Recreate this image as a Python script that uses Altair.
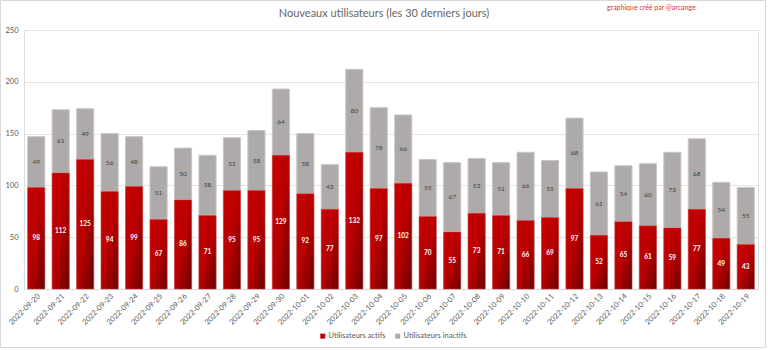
import altair as alt
import pandas as pd

dates = ["2022-09-20","2022-09-21","2022-09-22","2022-09-23","2022-09-24","2022-09-25","2022-09-26",
         "2022-09-27","2022-09-28","2022-09-29","2022-09-30","2022-10-01","2022-10-02","2022-10-03",
         "2022-10-04","2022-10-05","2022-10-06","2022-10-07","2022-10-08","2022-10-09","2022-10-10",
         "2022-10-11","2022-10-12","2022-10-13","2022-10-14","2022-10-15","2022-10-16","2022-10-17",
         "2022-10-18","2022-10-19"]
actifs = [98,112,125,94,99,67,86,71,95,95,129,92,77,132,97,102,70,55,73,71,66,69,97,52,65,61,59,77,49,43]
inactifs = [49,61,49,56,48,51,50,58,51,58,64,58,43,80,78,66,55,67,53,51,66,55,68,61,54,60,73,68,54,55]
series_names = ["Utilisateurs actifs", "Utilisateurs inactifs"]
title_text = "Nouveaux utilisateurs  (les 30 derniers  jours)"
credit_text = "graphique créé par @arcange"

wide = pd.DataFrame({"date": dates, "actifs": actifs, "inactifs": inactifs})
wide["total"] = wide["actifs"] + wide["inactifs"]
wide["mid_a"] = wide["actifs"] / 2
wide["mid_i"] = wide["actifs"] + wide["inactifs"] / 2

long = pd.concat([
    pd.DataFrame({"date": dates, "series": series_names[0], "lo": 0, "hi": actifs}),
    pd.DataFrame({"date": dates, "series": series_names[1], "lo": actifs, "hi": wide["total"]}),
])

FONT = "Lato"
x_enc = alt.X("date:N", sort=dates, title=None,
              scale=alt.Scale(paddingInner=0.3, paddingOuter=0.15),
              axis=alt.Axis(labelAngle=-45, labelFontSize=7.5, labelColor="#595959",
                            ticks=False, domainColor="#d9d9d9", labelPadding=3, labelFont=FONT))
y_scale = alt.Scale(domain=[0, 250], nice=False)
y_axis = alt.Axis(values=[0, 50, 100, 150, 200, 250], labelFontSize=7.5, labelColor="#595959",
                  domain=False, ticks=False, gridColor="#e4e4e4", labelPadding=6, title=None,
                  labelFont=FONT)

base = alt.Chart(long)
bars = base.mark_bar(stroke="#c9c6c6", strokeWidth=1).encode(
    x=x_enc,
    y=alt.Y("lo:Q", scale=y_scale, axis=y_axis),
    y2="hi:Q",
    color=alt.Color("series:N", sort=series_names,
                    scale=alt.Scale(domain=series_names, range=["#c00000", "#aeaaaa"]),
                    legend=alt.Legend(title=None, orient="none", legendX=295, legendY=302,
                                      direction="horizontal", symbolType="square", symbolSize=25,
                                      labelFontSize=7.5, labelColor="#595959", columnPadding=8,
                                      symbolStrokeWidth=0, labelFont=FONT, labelOffset=2)),
)

grad = alt.Gradient(gradient="linear", x1=0, y1=0, x2=1, y2=1,
                    stops=[alt.GradientStop(color="#c80000", offset=0),
                           alt.GradientStop(color="#b80000", offset=0.5),
                           alt.GradientStop(color="#6a0000", offset=1)])
red = alt.Chart(wide).mark_bar(color=grad, stroke="#d84040", strokeWidth=0.5).encode(
    x=alt.X("date:N", sort=dates),
    y=alt.Y("actifs:Q", scale=y_scale),
)

lab_a = alt.Chart(wide).mark_text(color="white", fontSize=6.5, fontWeight="bold", font=FONT).encode(
    x=alt.X("date:N", sort=dates), y=alt.Y("mid_a:Q", scale=y_scale), text="actifs:Q")
lab_i = alt.Chart(wide).mark_text(color="#404040", fontSize=6.5, font=FONT).encode(
    x=alt.X("date:N", sort=dates), y=alt.Y("mid_i:Q", scale=y_scale), text="inactifs:Q")

wm = alt.Chart(pd.DataFrame({"t": [credit_text]})).mark_text(
    color="#e03030", fontSize=7, font=FONT, align="left", baseline="middle").encode(
    text="t:N", x=alt.value(583), y=alt.value(-22))

ttl = alt.Chart(pd.DataFrame({"t": [title_text]})).mark_text(
    color="#666666", fontSize=11, font=FONT, align="center", baseline="middle").encode(
    text="t:N", x=alt.value(360), y=alt.value(-16))

frame = alt.Chart(pd.DataFrame({"f": [1]})).mark_rect(
    fill=None, stroke="#d9d9d9", strokeWidth=1).encode(
    x=alt.value(-23.5), x2=alt.value(741.5), y=alt.value(-29.5), y2=alt.value(317.5))

chart = alt.layer(frame, bars, red, lab_a, lab_i, wm, ttl).properties(
    width=734, height=259,
    autosize=alt.AutoSizeParams(type="none"),
    padding={"left": 24, "top": 30, "right": 10, "bottom": 61},
).configure_view(stroke=None).configure(background="white")

chart.save("out.html", embed_options={"renderer": "svg", "actions": False})
